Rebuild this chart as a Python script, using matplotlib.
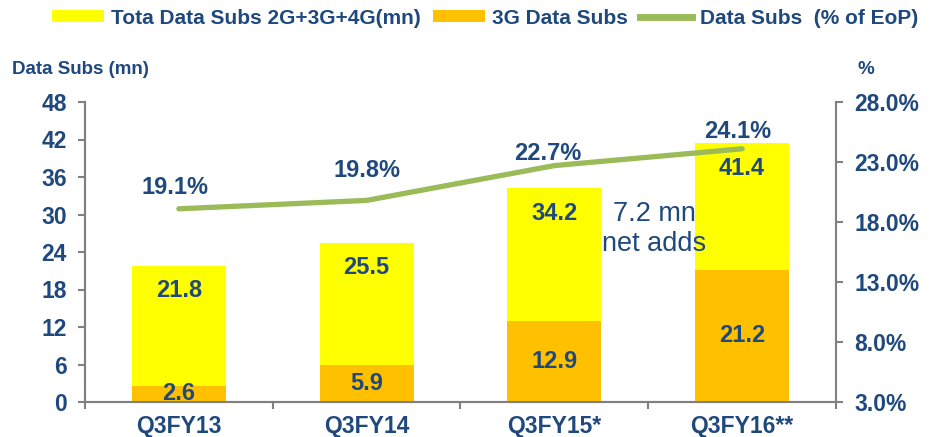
import matplotlib
matplotlib.use("Agg")
import matplotlib.pyplot as plt
from matplotlib.patches import Patch
from matplotlib.lines import Line2D
import numpy as np

plt.rcParams['font.family'] = ['Liberation Sans', 'DejaVu Sans']

categories = ["Q3FY13", "Q3FY14", "Q3FY15*", "Q3FY16**"]
total_subs = [21.8, 25.5, 34.2, 41.4]
subs_3g = [2.6, 5.9, 12.9, 21.2]
pct_eop = [19.1, 19.8, 22.7, 24.1]
left_ticks = [0, 6, 12, 18, 24, 30, 36, 42, 48]
right_ticks = [3, 8, 13, 18, 23, 28]

NAVY = "#1F497D"
YELLOW = "#FFFF00"
ORANGE = "#FFC000"
GREEN = "#9BBB59"
GRAY = "#808080"

fig = plt.figure(figsize=(9.41, 4.37), dpi=100)
ax = fig.add_axes([85/941, 1-402/437, (836-85)/941, 300/437])
ax2 = ax.twinx()

x = np.arange(len(categories))
w = 0.5
ax.bar(x, total_subs, w, color=YELLOW, zorder=2)
ax.bar(x, subs_3g, w, color=ORANGE, zorder=3)

ax.set_xlim(-0.5, len(categories) - 0.5)
ax.set_ylim(0, 48)
ax.set_yticks(left_ticks)
ax.set_yticklabels([str(t) for t in left_ticks])
ax.set_xticks(x)
ax.set_xticklabels(categories)
ax.set_xticks(np.arange(len(categories) + 1) - 0.5, minor=True)
ax.tick_params(axis='x', which='major', length=0, pad=9)
ax.tick_params(axis='x', which='minor', length=5, color=GRAY, width=1.5, direction='out')
ax.tick_params(axis='y', length=5, color=GRAY, width=1.5, pad=8)

for lbl in ax.get_xticklabels() + ax.get_yticklabels():
    lbl.set_fontsize(16.5)
    lbl.set_fontweight('bold')
    lbl.set_color(NAVY)

ax2.set_ylim(3, 28)
ax2.set_yticks(right_ticks)
ax2.set_yticklabels([f"{t:.1f}%" for t in right_ticks])
ax2.tick_params(axis='y', length=5, color=GRAY, width=1.5, pad=8)
for lbl in ax2.get_yticklabels():
    lbl.set_fontsize(16.5)
    lbl.set_fontweight('bold')
    lbl.set_color(NAVY)

for a in (ax, ax2):
    a.spines['top'].set_visible(False)
    for s in ('left', 'right', 'bottom'):
        a.spines[s].set_color(GRAY)
        a.spines[s].set_linewidth(1.5)
ax.spines['right'].set_visible(False)

ax2.plot(x, pct_eop, color=GREEN, linewidth=3.8, solid_capstyle='round', zorder=4)
ax.set_zorder(1)
ax2.set_zorder(2)
ax.patch.set_visible(False)

# Labels
for xi, t in zip(x, total_subs):
    ax.annotate(f"{t:.1f}", (xi, t), xytext=(0, -18), textcoords='offset points',
                ha='center', va='center', fontsize=17, fontweight='bold', color=NAVY)
for xi, v in zip(x, subs_3g):
    ax.annotate(f"{v:.1f}", (xi, v / 2), ha='center', va='center',
                fontsize=17, fontweight='bold', color=NAVY, zorder=5)
pct_offsets = [(-3, 15.5), (0, 21.5), (-5, 8.5), (-3, 12.5)]
for xi, p, off in zip(x, pct_eop, pct_offsets):
    ax2.annotate(f"{p:.1f}%", (xi, p), xytext=off, textcoords='offset points',
                 ha='center', va='center', fontsize=17, fontweight='bold', color=NAVY)

fig.text(654/941, 1-229/437, "7.2 mn\nnet adds", ha='center', va='center',
         fontsize=19.5, color=NAVY, linespacing=1.2)

fig.text(12/941, 1-70/437, "Data Subs (mn)", ha='left', va='center',
         fontsize=13.5, fontweight='bold', color=NAVY)
fig.text(858/941, 1-70/437, "%", ha='left', va='center',
         fontsize=13.5, fontweight='bold', color=NAVY)

handles = [Patch(facecolor=YELLOW), Patch(facecolor=ORANGE),
           Line2D([0], [0], color=GREEN, linewidth=5)]
labels = ["Tota Data Subs 2G+3G+4G(mn)", "3G Data Subs", "Data Subs  (% of EoP)"]
leg = fig.legend(handles, labels, loc='center', bbox_to_anchor=(485/941, 1-18/437),
                 ncol=3, frameon=False, handlelength=2.5, handleheight=0.53,
                 handletextpad=0.34, columnspacing=0.58,
                 prop={'size': 15, 'weight': 'bold'})
for t in leg.get_texts():
    t.set_color(NAVY)

fig.savefig("out.png", dpi=100)
